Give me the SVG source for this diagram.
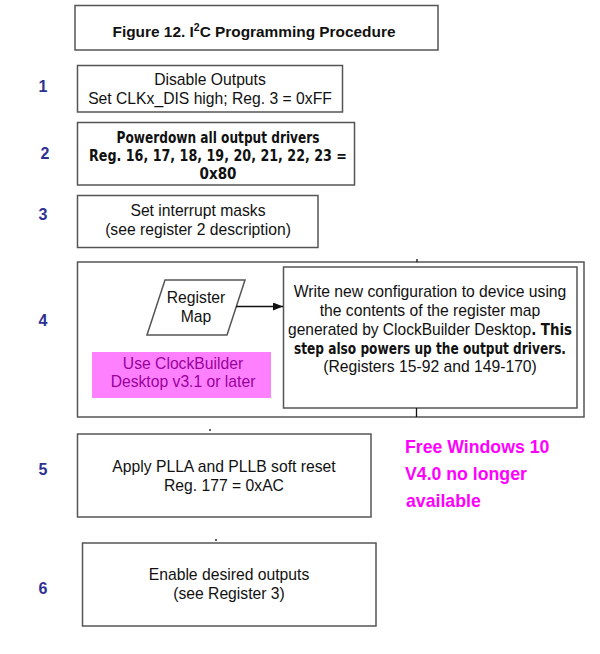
<svg xmlns="http://www.w3.org/2000/svg" width="600" height="654" viewBox="0 0 600 654">
<style>
.box{fill:#fff;stroke:#555;stroke-width:1.5}
.t{font-family:"Liberation Sans",Arial,sans-serif;font-size:15.7px;fill:#111;text-anchor:middle}
.b{font-family:"DejaVu Sans Condensed","DejaVu Sans",Verdana,sans-serif;font-stretch:condensed;font-weight:bold;font-size:15px;fill:#111;text-anchor:middle}
.n{font-family:"Liberation Sans",Arial,sans-serif;font-weight:bold;font-size:16px;fill:#2e3192;text-anchor:middle}
.pk{font-family:"Liberation Sans",Arial,sans-serif;font-weight:bold;font-size:17.7px;fill:#ff00ff}
.ln{stroke:#111;stroke-width:1.3;fill:none}
</style>
<defs>
<marker id="ah" markerWidth="10" markerHeight="8" refX="10" refY="4" orient="auto" markerUnits="userSpaceOnUse">
<path d="M0,0 L10,4 L0,8 z" fill="#111"/>
</marker>
</defs>
<rect width="600" height="654" fill="#fff"/>
<g id="title">
<rect class="box" x="75" y="5.5" width="363" height="44.5"/>
<text x="254" y="37" class="t" style="font-weight:bold;font-size:15.4px">Figure 12. I<tspan font-size="10.5" dy="-6">2</tspan><tspan dy="6">C Programming Procedure</tspan></text>
</g>
<g id="numbers">
<text class="n" x="43" y="92">1</text>
<text class="n" x="45" y="159">2</text>
<text class="n" x="43" y="220">3</text>
<text class="n" x="43" y="326">4</text>
<text class="n" x="43" y="475">5</text>
<text class="n" x="43" y="594">6</text>
</g>
<g id="step1">
<rect class="box" x="77.5" y="65.5" width="265" height="46.5"/>
<text class="t" x="210" y="85">Disable Outputs</text>
<text class="t" x="210" y="104">Set CLKx_DIS high; Reg. 3 = 0xFF</text>
</g>
<g id="step2">
<rect class="box" x="77.5" y="122.5" width="277" height="62.5"/>
<text class="b" x="218" y="143" textLength="203" lengthAdjust="spacingAndGlyphs">Powerdown all output drivers</text>
<text class="b" x="218" y="161" textLength="258" lengthAdjust="spacingAndGlyphs">Reg. 16, 17, 18, 19, 20, 21, 22, 23 =</text>
<text class="b" x="218" y="179">0x80</text>
</g>
<g id="step3">
<rect class="box" x="77.5" y="195.5" width="240.5" height="52"/>
<text class="t" x="198" y="216">Set interrupt masks</text>
<text class="t" x="198" y="235">(see register 2 description)</text>
</g>
<g id="step4">
<rect class="box" x="77.5" y="262" width="506.5" height="155"/>
<rect class="box" x="283.5" y="267" width="293.5" height="141"/>
<text class="t" x="430" y="297">Write new configuration to device using</text>
<text class="t" x="430" y="316">the contents of the register map</text>
<text class="t" x="430" y="335" textLength="284" lengthAdjust="spacingAndGlyphs">generated by ClockBuilder Desktop<tspan class="b">. This</tspan></text>
<text class="b" x="430" y="354" textLength="272" lengthAdjust="spacingAndGlyphs">step also powers up the output drivers.</text>
<text class="t" x="430" y="372">(Registers 15-92 and 149-170)</text>
</g>
<g id="registerMap">
<polygon class="box" points="165,280 245,280 227,335 147,335"/>
<text class="t" x="196" y="303">Register</text>
<text class="t" x="196" y="322">Map</text>
</g>
<g id="note">
<rect x="92" y="352" width="179" height="46" fill="#ff80ff"/>
<text class="t" x="183" y="369" style="fill:#990099">Use ClockBuilder</text>
<text class="t" x="183" y="387" style="fill:#990099">Desktop v3.1 or later</text>
</g>
<g id="step5">
<rect class="box" x="77.5" y="434" width="293.5" height="83"/>
<text class="t" x="224" y="472">Apply PLLA and PLLB soft reset</text>
<text class="t" x="224" y="491">Reg. 177 = 0xAC</text>
</g>
<g id="step6">
<rect class="box" x="82.5" y="543" width="293.5" height="83"/>
<text class="t" x="229" y="580">Enable desired outputs</text>
<text class="t" x="229" y="599">(see Register 3)</text>
</g>
<g id="freeNote">
<text class="pk" x="405" y="453">Free Windows 10</text>
<text class="pk" x="405" y="480">V4.0 no longer</text>
<text class="pk" x="406" y="507">available</text>
</g>
<g id="connectors">
<line class="ln" x1="236" y1="306.5" x2="283" y2="306.5" marker-end="url(#ah)"/>
<line class="ln" x1="417" y1="259" x2="417" y2="262"/>
<line class="ln" x1="416.5" y1="408" x2="416.5" y2="417"/>
<line class="ln" x1="210" y1="429" x2="210" y2="431"/>
<line class="ln" x1="216" y1="539" x2="216" y2="541"/>
</g>
</svg>
